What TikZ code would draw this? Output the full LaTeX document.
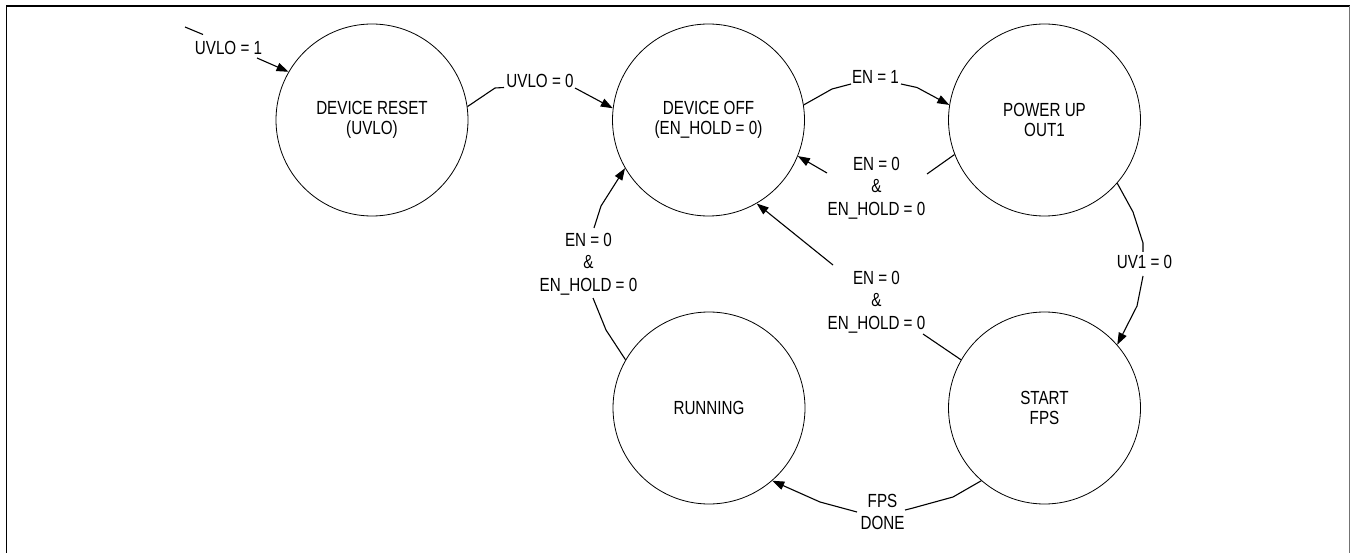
\documentclass[tikz,border=0pt]{standalone}
\usepackage{fontspec}
\setmainfont{Liberation Sans}[FakeStretch=0.8]
\usetikzlibrary{arrows.meta}
\begin{document}
\begin{tikzpicture}[x=1pt,y=-1pt,
  state/.style={circle,draw,line width=0.8pt,minimum size=192pt,inner sep=0pt,align=center,
    font=\fontsize{19}{20}\selectfont},
  conn/.style={line width=1.1pt,line join=round},
  arr/.style={conn,-{Triangle[length=12pt,width=8.5pt]}},
  lab/.style={inner sep=0pt,align=center,font=\fontsize{19}{22.3}\selectfont},
  frame/.style={line width=1.6pt}]
\useasboundingbox (0,0) rectangle (1351,553);
\draw[frame] (6.5,553) -- (6.5,6) -- (1349.5,6);
\draw[line width=1pt,black!55] (1349.5,6) -- (1349.5,553);

% states
\node[state] (dr)   at (372,120)   {DEVICE RESET\\(UVLO)};
\node[state] (doff) at (708.5,120) {DEVICE OFF\\(EN\_HOLD = 0)};
\node[state] (pu)   at (1044.5,120){POWER UP\\OUT1};
\node[state] (sf)   at (1044.5,408){START\\FPS};
\node[state] (run)  at (709,408)   {RUNNING};

% labels
\node[lab,anchor=base]  (l1) at (228.5,55) {UVLO = 1};
\node[lab,anchor=base]  (l2) at (540,88)   {UVLO = 0};
\node[lab,anchor=base]  (l3) at (875.5,84) {EN = 1};
\node[lab,anchor=north] (l4) at (876.5,157){EN = 0\\\&\\EN\_HOLD = 0};
\node[lab,anchor=north] (l5) at (876.5,271){EN = 0\\\&\\EN\_HOLD = 0};
\node[lab,anchor=north] (l6) at (588.5,233){EN = 0\\\&\\EN\_HOLD = 0};
\node[lab,anchor=base]  (l7) at (1144.5,269){UV1 = 0};
\node[lab,anchor=north] (l8) at (882.5,494){FPS\\DONE};

% connector end points near labels
\coordinate (a0) at (185,27);
\coordinate (a1) at (203,34.5);
\coordinate (a2) at (257,58);

\coordinate (b1) at (495,88);
\coordinate (b2) at (504,87.5);
\coordinate (b3) at (575,88);

\coordinate (c1) at (832,89);
\coordinate (c2) at (851,84);
\coordinate (c3) at (901,84);
\coordinate (c4) at (917,87.5);

\coordinate (d1) at (927,174);
\coordinate (d2) at (827,173);

\coordinate (e1) at (923,334);
\coordinate (e2) at (833,265);

\coordinate (f1) at (606,330);
\coordinate (f2) at (593,298);
\coordinate (f3) at (594,228);
\coordinate (f4) at (601,206);

\coordinate (g1) at (1133,212);
\coordinate (g2) at (1143,243);
\coordinate (g3) at (1143,252);
\coordinate (g4) at (1143,276);
\coordinate (g5) at (1137,306);

\coordinate (h1) at (953,497);
\coordinate (h2) at (913,508);
\coordinate (h3) at (905,510);
\coordinate (h4) at (857,512);
\coordinate (h5) at (820,502);

% connectors
\draw[conn] (a0) -- (a1);
\draw[arr]  (a2) -- (dr.150);

\draw[conn] (dr.8) -- (b1) -- (b2);
\draw[arr]  (b3) -- (doff.173);

\draw[conn] (doff.9) -- (c1) -- (c2);
\draw[arr]  (c3) -- (c4) -- (pu.171.5);

\draw[conn] (pu.201.5) -- (d1);
\draw[arr]  (d2) -- (doff.338.5);

\draw[conn] (sf.150) -- (e1);
\draw[arr]  (e2) -- (doff.300.5);

\draw[conn] (run.150.5) -- (f1) -- (f2);
\draw[arr]  (f3) -- (f4) -- (doff.210.5);

\draw[conn] (pu.319) -- (g1) -- (g2) -- (g3);
\draw[arr]  (g4) -- (g5) -- (sf.41.5);

\draw[conn] (sf.229) -- (h1) -- (h2) -- (h3);
\draw[arr]  (h4) -- (h5) -- (run.311.5);
\end{tikzpicture}
\end{document}
